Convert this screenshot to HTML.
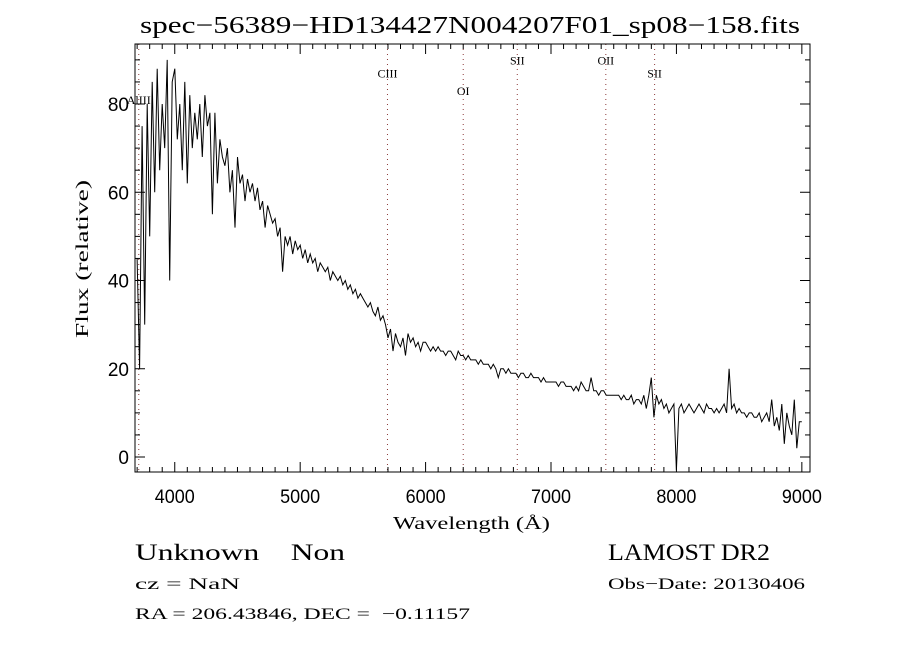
<!DOCTYPE html>
<html><head><meta charset="utf-8"><style>
html,body{margin:0;padding:0;background:#fff;}
svg{display:block;font-family:"Liberation Serif",serif;}
</style></head><body>
<svg id="chart" width="900" height="650" viewBox="0 0 900 650">
<rect width="900" height="650" fill="#fff"/>
<text x="140" y="33" font-size="24" textLength="660" lengthAdjust="spacingAndGlyphs">spec−56389−HD134427N004207F01_sp08−158.fits</text>
<text transform="translate(88,180) rotate(-90)" font-size="18" text-anchor="end" textLength="158" lengthAdjust="spacingAndGlyphs">Flux (relative)</text>
<text x="393" y="529" font-size="18" textLength="157" lengthAdjust="spacingAndGlyphs">Wavelength (Å)</text>
<g id="lines"></g>
<g id="ticks"></g>
<path id="spec" fill="none" stroke="#000" stroke-width="1"/>
<rect x="135" y="44" width="675" height="428" fill="none" stroke="#000" stroke-width="1"/>
<text x="135" y="560" font-size="23" textLength="210" lengthAdjust="spacingAndGlyphs">Unknown &#160;&#160;&#160;Non</text>
<text x="135" y="589" font-size="16" textLength="105" lengthAdjust="spacingAndGlyphs">cz = NaN</text>
<text x="135" y="619" font-size="16" textLength="335" lengthAdjust="spacingAndGlyphs">RA = 206.43846, DEC = &#160;−0.11157</text>
<text x="608" y="560" font-size="23" textLength="162" lengthAdjust="spacingAndGlyphs">LAMOST DR2</text>
<text x="608" y="589" font-size="16" textLength="197" lengthAdjust="spacingAndGlyphs">Obs−Date: 20130406</text>
</svg>
<script>
const waveStart = 3700;
const waveStep = 20;
const flux = [
45,20,75,30,80, 50,85,60,88,65, 80,70,90,40,85, 88,72,80,65,85,
62,82,70,78,72, 80,68,82,75,78, 55,78,62,72,68, 66,70,60,65,52,
68,62,64,58,63, 60,62,58,61,56, 58,52,57,55,53, 54,50,52,42,50,
48,50,46,49,47, 48,45,47,44,46, 44,45,42,44,43, 42,43,40,42,41,
40,41,39,40,38, 39,37,38,36,37, 36,35,34,35,33, 32,34,31,32,30,
27,29,24,28,26, 25,27,23,28,26, 27,25,26,24,26, 26,25,24,25,24,
25,24,24,23,24, 24,23,22,24,23, 23,22,23,22,22, 22,21,22,21,21,
21,20,21,20,18, 20,20,19,20,19, 19,19,18,19,19, 18,18,19,18,18,
18,17,18,17,17, 17,17,17,16,17, 17,16,16,16,15, 16,15,17,16,15,
15,18,15,15,14, 15,15,14,14,14, 14,14,14,13,14, 13,13,14,12,13,
13,12,14,11,14, 18,9,14,12,13, 11,12,10,11,12, -3,11,12,10,11,
12,11,10,11,12, 11,10,12,11,11, 10,11,10,11,12, 10,20,11,12,10,
11,10,10,9,10, 10,9,9,10,8, 9,10,8,13,7, 9,6,12,3,10,
7,5,13,2,8, 8];
const lineNames = ["AlIII","CIII","OI","SII","OII","SII"];
const lineWaves = [3713,5696,6300,6731,7437,7826];
const lineLabelFlux = [80,86,82,89,89,86];
const xTickLabels = [4000,5000,6000,7000,8000,9000];
const yTickLabels = [0,20,40,60,80];
const X0=135,X1=810,Y0=44,Y1=472;
const xMin=3683,xMax=9065,yMin=-3.4,yMax=93.6;
const xs=w=>X0+(w-xMin)/(xMax-xMin)*(X1-X0);
const ys=f=>Y1-(f-yMin)/(yMax-yMin)*(Y1-Y0);
const NS="http://www.w3.org/2000/svg";
let d="";
flux.forEach((f,i)=>{const w=waveStart+i*waveStep;d+=(i?"L":"M")+xs(w).toFixed(1)+","+ys(f).toFixed(1);});
document.getElementById("spec").setAttribute("d",d);
const lg=document.getElementById("lines");
lineWaves.forEach((w,i)=>{
  const l=document.createElementNS(NS,"line");
  l.setAttribute("x1",xs(w));l.setAttribute("x2",xs(w));l.setAttribute("y1",Y0);l.setAttribute("y2",Y1);
  l.setAttribute("stroke","#8b3a3a");l.setAttribute("stroke-dasharray","1,4");
  
  
  lg.appendChild(l);
  const t=document.createElementNS(NS,"text");
  t.setAttribute("x",xs(w));t.setAttribute("y",ys(lineLabelFlux[i]));
  t.setAttribute("font-size","12");t.setAttribute("text-anchor","middle");
  t.textContent=lineNames[i];
  
  
  lg.appendChild(t);
});
const tg=document.getElementById("ticks");
function ln(x1,y1,x2,y2){const l=document.createElementNS(NS,"line");l.setAttribute("x1",x1);l.setAttribute("y1",y1);l.setAttribute("x2",x2);l.setAttribute("y2",y2);l.setAttribute("stroke","#000");
  
  
  tg.appendChild(l);}
for(let w=3700;w<=9000;w+=100){const x=xs(w);const L=(w%1000===0)?10:5;ln(x,Y1,x,Y1-L);ln(x,Y0,x,Y0+L);}
for(let f=0;f<=90;f+=5){const y=ys(f);const L=(f%20===0)?10:5;ln(X0,y,X0+L,y);ln(X1,y,X1-L,y);}
xTickLabels.forEach(v=>{const t=document.createElementNS(NS,"text");t.setAttribute("x",xs(v)-20);t.setAttribute("y",Y1+31);t.setAttribute("font-size","19");t.setAttribute("textLength","40");t.setAttribute("lengthAdjust","spacingAndGlyphs");t.setAttribute("font-family","Liberation Sans, sans-serif");t.textContent=v;
  
  
  tg.appendChild(t);});
yTickLabels.forEach(v=>{const t=document.createElementNS(NS,"text");t.setAttribute("x",X0-6);t.setAttribute("y",ys(v)+7);t.setAttribute("font-size","19");t.setAttribute("text-anchor","end");t.setAttribute("font-family","Liberation Sans, sans-serif");t.textContent=v;
  
  
  tg.appendChild(t);});
</script>
</body></html>
